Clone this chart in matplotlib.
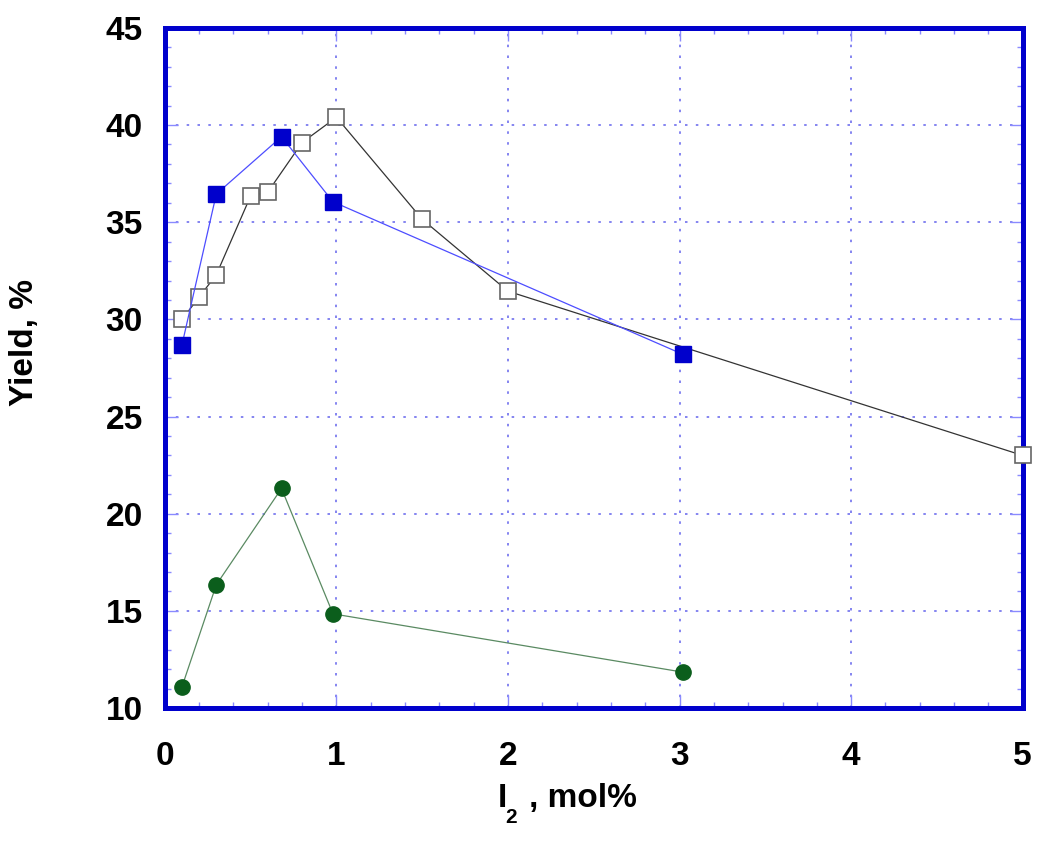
import matplotlib
matplotlib.use("Agg")
import matplotlib.pyplot as plt
from matplotlib.ticker import MultipleLocator

plt.rcParams['font.family'] = ['Liberation Sans', 'DejaVu Sans']

# open squares (black)
x_open = [0.1, 0.2, 0.3, 0.5, 0.6, 0.8, 1.0, 1.5, 2.0, 5.0]
y_open = [30.0, 31.15, 32.3, 36.35, 36.55, 39.1, 40.4, 35.15, 31.45, 23.0]

# filled squares (blue)
x_blue = [0.1, 0.3, 0.68, 0.98, 3.02]
y_blue = [28.7, 36.45, 39.4, 36.05, 28.2]

# filled circles (green)
x_green = [0.1, 0.3, 0.68, 0.98, 3.02]
y_green = [11.1, 16.35, 21.3, 14.85, 11.85]

BLUE = "#0000cc"
GREEN = "#0b5e1c"
GRID = "#6f6fee"

fig = plt.figure(figsize=(10.5, 8.44), dpi=100)
ax = fig.add_axes([0.157, 0.161, 0.817, 0.806])

ax.plot(x_open, y_open, color="#333333", lw=0.9, marker="s", ms=11,
        mfc="white", mec="#666666", mew=1.2, zorder=3, clip_on=False)
ax.plot(x_blue, y_blue, color="#4d4dff", lw=0.9, marker="s", ms=11,
        mfc=BLUE, mec=BLUE, zorder=4)
ax.plot(x_green, y_green, color="#5a8a62", lw=0.9, marker="o", ms=11,
        mfc=GREEN, mec=GREEN, zorder=4)

ax.set_xlim(0, 5)
ax.set_ylim(10, 45)
ax.xaxis.set_major_locator(MultipleLocator(1))
ax.xaxis.set_minor_locator(MultipleLocator(0.2))
ax.yaxis.set_major_locator(MultipleLocator(5))
ax.yaxis.set_minor_locator(MultipleLocator(1))

ax.grid(True, which="major", color=GRID, linestyle=(0, (1.5, 5)), lw=1.2)

for s in ax.spines.values():
    s.set_color(BLUE)
    s.set_linewidth(3.6)

ax.tick_params(which="both", direction="in", color="#8a8aff", top=True, right=True)
ax.tick_params(which="major", length=9.5, width=1, labelsize=24)
ax.tick_params(axis="y", which="major", pad=16)
ax.tick_params(axis="x", which="major", pad=24)
ax.tick_params(which="minor", length=4, width=1)
for lab in ax.get_xticklabels() + ax.get_yticklabels():
    lab.set_fontweight("bold")

ax.set_ylabel("Yield, %", fontsize=24, fontweight="bold")
ax.yaxis.set_label_coords(-0.145, 0.537)

# x label: I with a low subscript 2, then ", mol%"
fig.text(498 / 1050, 1 - 807 / 844, "I", fontsize=24, fontweight="bold",
         ha="left", va="baseline")
fig.text(505 / 1050, 1 - 823 / 844, "2", fontsize=15, fontweight="bold",
         ha="left", va="baseline")
fig.text(529 / 1050, 1 - 807 / 844, ", mol%", fontsize=24, fontweight="bold",
         ha="left", va="baseline")

fig.savefig("out.png", dpi=100)
